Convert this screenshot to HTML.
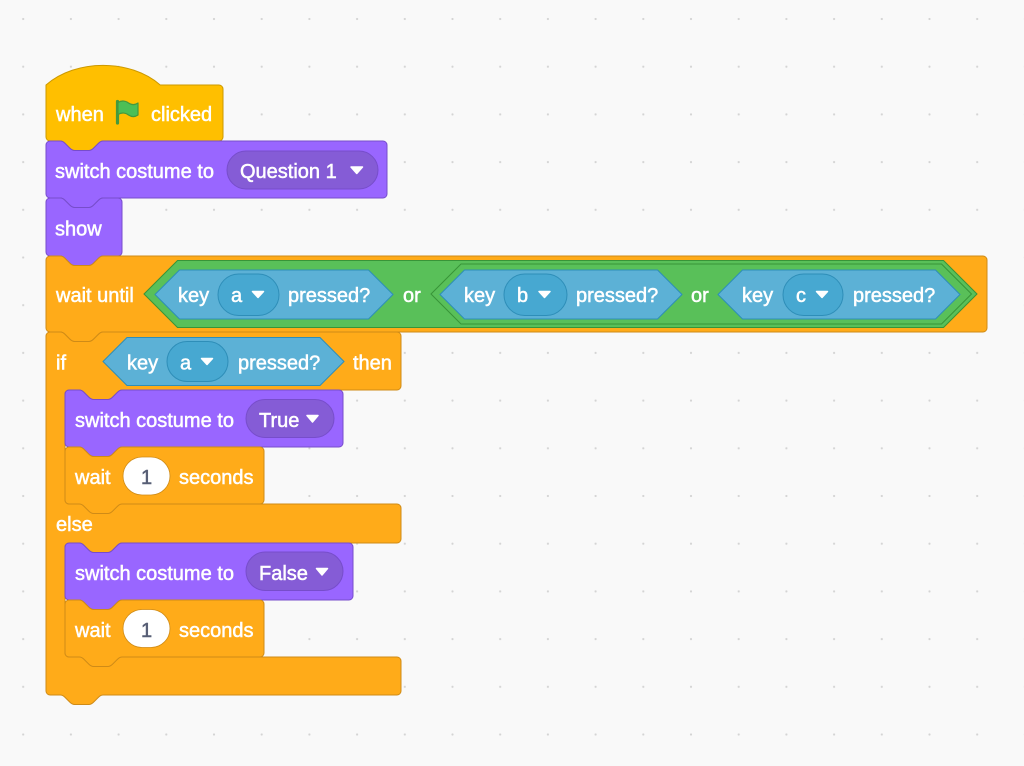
<!DOCTYPE html>
<html>
<head>
<meta charset="utf-8">
<style>
  html,body{margin:0;padding:0;background:#F9F9F9;}
  svg{display:block;}
  text{font-family:"Liberation Sans",Helvetica,Arial,sans-serif;font-size:20px;fill:#fff;stroke:#fff;stroke-width:0.5px;}
  .dk{fill:#575E75;stroke:#575E75;}
</style>
</head>
<body>
<svg width="1024" height="766" viewBox="0 0 1024 766" xmlns="http://www.w3.org/2000/svg">
  <defs>
    <pattern id="dots" patternUnits="userSpaceOnUse" width="47.7" height="47.7" patternTransform="translate(-0.65,-4.85)">
      <circle cx="23.85" cy="23.85" r="1.1" fill="#D4D4D4"/>
    </pattern>
  </defs>
  <rect width="1024" height="766" fill="#F9F9F9"/>
  <rect width="1024" height="766" fill="url(#dots)"/>

  <!-- Hat: when flag clicked -->
  <path fill="#FFBF00" stroke="#CC9900" stroke-width="1"
    d="M 46,85 c 29.75,-26.18 84.49,-26.18 114.24,0 H 219 A 4,4 0 0 1 223,89 V 137 A 4,4 0 0 1 219,141 H 103.14 c -2.38,0 -3.57,1.19 -4.76,2.38 l -4.76,4.76 c -1.19,1.19 -2.38,2.38 -4.76,2.38 h -14.28 c -2.38,0 -3.57,-1.19 -4.76,-2.38 l -4.76,-4.76 c -1.19,-1.19 -2.38,-2.38 -4.76,-2.38 H 50 A 4,4 0 0 1 46,137 Z"/>
  <text x="56" y="121">when</text>
  <g>
    <path d="M117.5,101.5 V123" stroke="#45993D" stroke-width="3.2" stroke-linecap="round" fill="none"/>
    <path d="M118,102.5 c 4,-2.5 8,-1.5 10.5,0.5 c 3,2 6.5,2 9.5,0 v 12 c -3,2 -6.5,2 -9.5,0 c -2.5,-2 -6.5,-3 -10.5,-0.5 z" fill="#4CBF56" stroke="#45993D" stroke-width="1.2" stroke-linejoin="round"/>
  </g>
  <text x="151" y="121">clicked</text>

  <!-- switch costume to Question 1 -->
  <path fill="#9966FF" stroke="#774DCB" stroke-width="1"
    d="M 46,145 A 4,4 0 0 1 50,141 H 60.3 c 2.38,0 3.57,1.19 4.76,2.38 l 4.76,4.76 c 1.19,1.19 2.38,2.38 4.76,2.38 h 14.28 c 2.38,0 3.57,-1.19 4.76,-2.38 l 4.76,-4.76 c 1.19,-1.19 2.38,-2.38 4.76,-2.38 H 383 A 4,4 0 0 1 387,145 V 194 A 4,4 0 0 1 383,198 H 103.14 c -2.38,0 -3.57,1.19 -4.76,2.38 l -4.76,4.76 c -1.19,1.19 -2.38,2.38 -4.76,2.38 h -14.28 c -2.38,0 -3.57,-1.19 -4.76,-2.38 l -4.76,-4.76 c -1.19,-1.19 -2.38,-2.38 -4.76,-2.38 H 50 A 4,4 0 0 1 46,194 Z"/>
  <text x="55" y="178">switch costume to</text>
  <rect x="227" y="151" width="151" height="38" rx="19" fill="#855CD6" stroke="#774DCB" stroke-width="1"/>
  <text x="240" y="178">Question 1</text>
  <path d="M351,167 h11.5 l-5.75,6.5 z" fill="#fff" stroke="#fff" stroke-width="1.5" stroke-linejoin="round"/>

  <!-- show -->
  <path fill="#9966FF" stroke="#774DCB" stroke-width="1"
    d="M 46,202 A 4,4 0 0 1 50,198 H 60.3 c 2.38,0 3.57,1.19 4.76,2.38 l 4.76,4.76 c 1.19,1.19 2.38,2.38 4.76,2.38 h 14.28 c 2.38,0 3.57,-1.19 4.76,-2.38 l 4.76,-4.76 c 1.19,-1.19 2.38,-2.38 4.76,-2.38 H 118 A 4,4 0 0 1 122,202 V 252 A 4,4 0 0 1 118,256 H 103.14 c -2.38,0 -3.57,1.19 -4.76,2.38 l -4.76,4.76 c -1.19,1.19 -2.38,2.38 -4.76,2.38 h -14.28 c -2.38,0 -3.57,-1.19 -4.76,-2.38 l -4.76,-4.76 c -1.19,-1.19 -2.38,-2.38 -4.76,-2.38 H 50 A 4,4 0 0 1 46,252 Z"/>
  <text x="55" y="235.5">show</text>

  <!-- wait until -->
  <path fill="#FFAB19" stroke="#CF8B17" stroke-width="1"
    d="M 46,260 A 4,4 0 0 1 50,256 H 60.3 c 2.38,0 3.57,1.19 4.76,2.38 l 4.76,4.76 c 1.19,1.19 2.38,2.38 4.76,2.38 h 14.28 c 2.38,0 3.57,-1.19 4.76,-2.38 l 4.76,-4.76 c 1.19,-1.19 2.38,-2.38 4.76,-2.38 H 983 A 4,4 0 0 1 987,260 V 328 A 4,4 0 0 1 983,332 H 103.14 c -2.38,0 -3.57,1.19 -4.76,2.38 l -4.76,4.76 c -1.19,1.19 -2.38,2.38 -4.76,2.38 h -14.28 c -2.38,0 -3.57,-1.19 -4.76,-2.38 l -4.76,-4.76 c -1.19,-1.19 -2.38,-2.38 -4.76,-2.38 H 50 A 4,4 0 0 1 46,328 Z"/>
  <text x="56" y="302">wait until</text>
  <!-- outer or -->
  <path d="M144,294 L177.5,260.5 H943.5 L977,294 L943.5,327.5 H177.5 Z" fill="#59C059" stroke="#389438" stroke-width="1"/>
  <!-- key a -->
  <path d="M155,294.5 L179.5,270 H368.5 L393,294.5 L368.5,319 H179.5 Z" fill="#5CB1D6" stroke="#2E8EB8" stroke-width="1"/>
  <text x="178" y="302">key</text>
  <rect x="218" y="274" width="61" height="41.5" rx="20.75" fill="#47A8D1" stroke="#2E8EB8" stroke-width="1"/>
  <text x="231" y="302">a</text>
  <path d="M252.5,291.5 h11 l-5.5,6 z" fill="#fff" stroke="#fff" stroke-width="1.5" stroke-linejoin="round"/>
  <text x="288" y="302">pressed?</text>
  <text x="403" y="302">or</text>
  <!-- nested or -->
  <path d="M431,294 L461,264 H941.5 L971.5,294 L941.5,324 H461 Z" fill="#59C059" stroke="#389438" stroke-width="1"/>
  <!-- key b -->
  <path d="M440,294.5 L464.5,270 H657.5 L682,294.5 L657.5,319 H464.5 Z" fill="#5CB1D6" stroke="#2E8EB8" stroke-width="1"/>
  <text x="464" y="302">key</text>
  <rect x="504" y="274" width="63" height="41.5" rx="20.75" fill="#47A8D1" stroke="#2E8EB8" stroke-width="1"/>
  <text x="517" y="302">b</text>
  <path d="M539,291.5 h11 l-5.5,6 z" fill="#fff" stroke="#fff" stroke-width="1.5" stroke-linejoin="round"/>
  <text x="576" y="302">pressed?</text>
  <text x="691" y="302">or</text>
  <!-- key c -->
  <path d="M718,294.5 L742.5,270 H935.5 L960,294.5 L935.5,319 H742.5 Z" fill="#5CB1D6" stroke="#2E8EB8" stroke-width="1"/>
  <text x="742" y="302">key</text>
  <rect x="783" y="274" width="60" height="41.5" rx="20.75" fill="#47A8D1" stroke="#2E8EB8" stroke-width="1"/>
  <text x="796" y="302">c</text>
  <path d="M816.5,291.5 h11 l-5.5,6 z" fill="#fff" stroke="#fff" stroke-width="1.5" stroke-linejoin="round"/>
  <text x="853" y="302">pressed?</text>

  <!-- if / else C block -->
  <path fill="#FFAB19" stroke="#CF8B17" stroke-width="1"
    d="M 46,336 A 4,4 0 0 1 50,332 H 60.3 c 2.38,0 3.57,1.19 4.76,2.38 l 4.76,4.76 c 1.19,1.19 2.38,2.38 4.76,2.38 h 14.28 c 2.38,0 3.57,-1.19 4.76,-2.38 l 4.76,-4.76 c 1.19,-1.19 2.38,-2.38 4.76,-2.38 H 397 A 4,4 0 0 1 401,336 V 386 A 4,4 0 0 1 397,390 H 122.14 c -2.38,0 -3.57,1.19 -4.76,2.38 l -4.76,4.76 c -1.19,1.19 -2.38,2.38 -4.76,2.38 h -14.28 c -2.38,0 -3.57,-1.19 -4.76,-2.38 l -4.76,-4.76 c -1.19,-1.19 -2.38,-2.38 -4.76,-2.38 H 69 A 4,4 0 0 0 65,394 V 500 A 4,4 0 0 0 69,504 H 397 A 4,4 0 0 1 401,508 V 539 A 4,4 0 0 1 397,543 H 122.14 c -2.38,0 -3.57,1.19 -4.76,2.38 l -4.76,4.76 c -1.19,1.19 -2.38,2.38 -4.76,2.38 h -14.28 c -2.38,0 -3.57,-1.19 -4.76,-2.38 l -4.76,-4.76 c -1.19,-1.19 -2.38,-2.38 -4.76,-2.38 H 69 A 4,4 0 0 0 65,547 V 653 A 4,4 0 0 0 69,657 H 397 A 4,4 0 0 1 401,661 V 691 A 4,4 0 0 1 397,695 H 103.14 c -2.38,0 -3.57,1.19 -4.76,2.38 l -4.76,4.76 c -1.19,1.19 -2.38,2.38 -4.76,2.38 h -14.28 c -2.38,0 -3.57,-1.19 -4.76,-2.38 l -4.76,-4.76 c -1.19,-1.19 -2.38,-2.38 -4.76,-2.38 H 50 A 4,4 0 0 1 46,691 Z"/>
  <text x="56" y="369.5">if</text>
  <path d="M103,361.5 L127,337.5 H320 L344,361.5 L320,385.5 H127 Z" fill="#5CB1D6" stroke="#2E8EB8" stroke-width="1"/>
  <text x="127" y="369.5">key</text>
  <rect x="167" y="341.5" width="61" height="40" rx="20" fill="#47A8D1" stroke="#2E8EB8" stroke-width="1"/>
  <text x="180" y="369.5">a</text>
  <path d="M201.5,358.5 h11 l-5.5,6 z" fill="#fff" stroke="#fff" stroke-width="1.5" stroke-linejoin="round"/>
  <text x="238" y="369.5">pressed?</text>
  <text x="353" y="369.5">then</text>
  <text x="56" y="531">else</text>

  <!-- switch costume to True -->
  <path fill="#9966FF" stroke="#774DCB" stroke-width="1"
    d="M 65,394 A 4,4 0 0 1 69,390 H 79.3 c 2.38,0 3.57,1.19 4.76,2.38 l 4.76,4.76 c 1.19,1.19 2.38,2.38 4.76,2.38 h 14.28 c 2.38,0 3.57,-1.19 4.76,-2.38 l 4.76,-4.76 c 1.19,-1.19 2.38,-2.38 4.76,-2.38 H 339 A 4,4 0 0 1 343,394 V 443 A 4,4 0 0 1 339,447 H 122.14 c -2.38,0 -3.57,1.19 -4.76,2.38 l -4.76,4.76 c -1.19,1.19 -2.38,2.38 -4.76,2.38 h -14.28 c -2.38,0 -3.57,-1.19 -4.76,-2.38 l -4.76,-4.76 c -1.19,-1.19 -2.38,-2.38 -4.76,-2.38 H 69 A 4,4 0 0 1 65,443 Z"/>
  <text x="75" y="427">switch costume to</text>
  <rect x="246" y="399.5" width="88" height="38" rx="19" fill="#855CD6" stroke="#774DCB" stroke-width="1"/>
  <text x="259" y="427">True</text>
  <path d="M307,415.5 h11 l-5.5,6.5 z" fill="#fff" stroke="#fff" stroke-width="1.5" stroke-linejoin="round"/>

  <!-- wait 1 seconds -->
  <path fill="#FFAB19" stroke="#CF8B17" stroke-width="1"
    d="M 65,451 A 4,4 0 0 1 69,447 H 79.3 c 2.38,0 3.57,1.19 4.76,2.38 l 4.76,4.76 c 1.19,1.19 2.38,2.38 4.76,2.38 h 14.28 c 2.38,0 3.57,-1.19 4.76,-2.38 l 4.76,-4.76 c 1.19,-1.19 2.38,-2.38 4.76,-2.38 H 260 A 4,4 0 0 1 264,451 V 500 A 4,4 0 0 1 260,504 H 122.14 c -2.38,0 -3.57,1.19 -4.76,2.38 l -4.76,4.76 c -1.19,1.19 -2.38,2.38 -4.76,2.38 h -14.28 c -2.38,0 -3.57,-1.19 -4.76,-2.38 l -4.76,-4.76 c -1.19,-1.19 -2.38,-2.38 -4.76,-2.38 H 69 A 4,4 0 0 1 65,500 Z"/>
  <text x="75" y="484">wait</text>
  <rect x="123" y="457" width="47" height="38" rx="19" fill="#fff" stroke="#CF8B17" stroke-width="0.8"/>
  <text x="146.5" y="484" text-anchor="middle" class="dk">1</text>
  <text x="179" y="484">seconds</text>

  <!-- switch costume to False -->
  <path fill="#9966FF" stroke="#774DCB" stroke-width="1"
    d="M 65,547 A 4,4 0 0 1 69,543 H 79.3 c 2.38,0 3.57,1.19 4.76,2.38 l 4.76,4.76 c 1.19,1.19 2.38,2.38 4.76,2.38 h 14.28 c 2.38,0 3.57,-1.19 4.76,-2.38 l 4.76,-4.76 c 1.19,-1.19 2.38,-2.38 4.76,-2.38 H 349 A 4,4 0 0 1 353,547 V 596 A 4,4 0 0 1 349,600 H 122.14 c -2.38,0 -3.57,1.19 -4.76,2.38 l -4.76,4.76 c -1.19,1.19 -2.38,2.38 -4.76,2.38 h -14.28 c -2.38,0 -3.57,-1.19 -4.76,-2.38 l -4.76,-4.76 c -1.19,-1.19 -2.38,-2.38 -4.76,-2.38 H 69 A 4,4 0 0 1 65,596 Z"/>
  <text x="75" y="580">switch costume to</text>
  <rect x="246" y="552" width="97" height="38.5" rx="19.25" fill="#855CD6" stroke="#774DCB" stroke-width="1"/>
  <text x="259" y="580">False</text>
  <path d="M316.5,568.5 h11 l-5.5,6.5 z" fill="#fff" stroke="#fff" stroke-width="1.5" stroke-linejoin="round"/>

  <!-- wait 1 seconds -->
  <path fill="#FFAB19" stroke="#CF8B17" stroke-width="1"
    d="M 65,604 A 4,4 0 0 1 69,600 H 79.3 c 2.38,0 3.57,1.19 4.76,2.38 l 4.76,4.76 c 1.19,1.19 2.38,2.38 4.76,2.38 h 14.28 c 2.38,0 3.57,-1.19 4.76,-2.38 l 4.76,-4.76 c 1.19,-1.19 2.38,-2.38 4.76,-2.38 H 260 A 4,4 0 0 1 264,604 V 653 A 4,4 0 0 1 260,657 H 122.14 c -2.38,0 -3.57,1.19 -4.76,2.38 l -4.76,4.76 c -1.19,1.19 -2.38,2.38 -4.76,2.38 h -14.28 c -2.38,0 -3.57,-1.19 -4.76,-2.38 l -4.76,-4.76 c -1.19,-1.19 -2.38,-2.38 -4.76,-2.38 H 69 A 4,4 0 0 1 65,653 Z"/>
  <text x="75" y="637">wait</text>
  <rect x="123" y="609.5" width="47" height="38" rx="19" fill="#fff" stroke="#CF8B17" stroke-width="0.8"/>
  <text x="146.5" y="637" text-anchor="middle" class="dk">1</text>
  <text x="179" y="637">seconds</text>
</svg>
</body>
</html>
